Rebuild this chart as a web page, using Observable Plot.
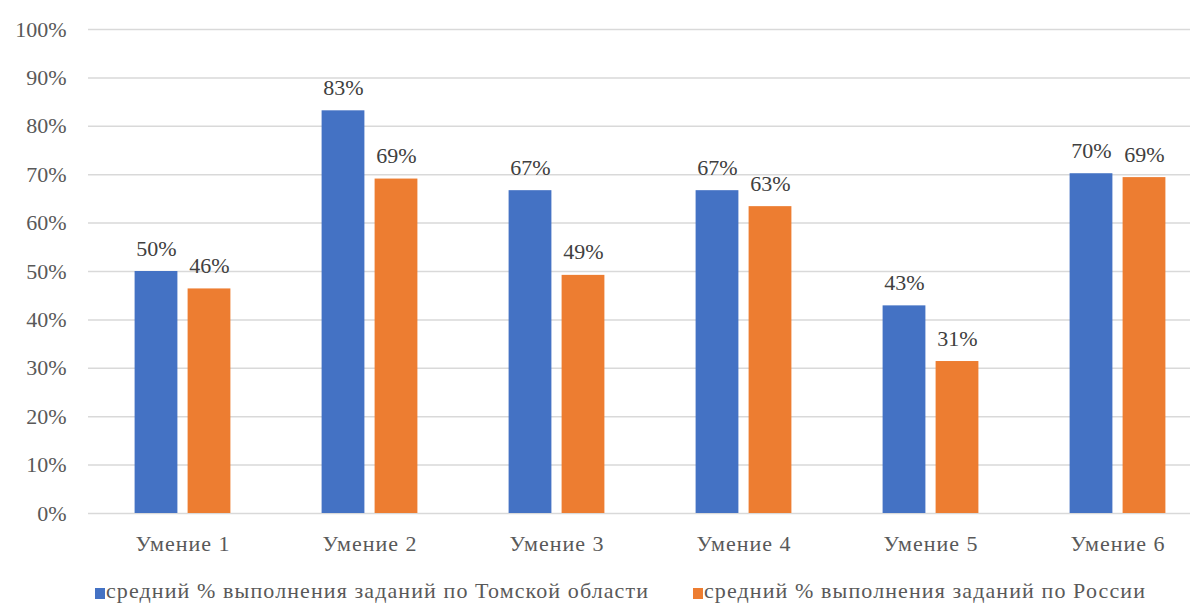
<!DOCTYPE html>
<html>
<head>
<meta charset="utf-8">
<script src="https://cdn.jsdelivr.net/npm/d3@7"></script>
<script src="https://cdn.jsdelivr.net/npm/@observablehq/plot@0.6"></script>
<style>
  html, body { margin: 0; padding: 0; background: #ffffff; }
  #wrap { position: relative; width: 1198px; height: 606px; overflow: hidden; }
  #legend { position: absolute; left: 0; top: 578px; width: 1198px; height: 28px;
    font-family: "Liberation Serif", "DejaVu Serif", serif; font-size: 22px; color: #595959; letter-spacing: 1.1px; }
  .item { position: absolute; top: 0; white-space: nowrap; line-height: 26px; }
  .sw { display: inline-block; width: 10px; height: 11px; margin-right: 1px; vertical-align: -1px; }
  svg text { font-family: "Liberation Serif", "DejaVu Serif", serif; }
  svg g[aria-label="x-axis tick label"] text { letter-spacing: 1px; }
</style>
</head>
<body>
<div id="wrap">
  <div id="chart"></div>
  <div id="legend"></div>
</div>
<script>
const categories = ["Умение 1", "Умение 2", "Умение 3", "Умение 4", "Умение 5", "Умение 6"];
const seriesNames = ["средний % выполнения заданий по Томской области", "средний % выполнения заданий по России"];
const tomsk = [50.0, 83.2, 66.7, 66.7, 42.9, 70.2];
const russia = [46.4, 69.1, 49.2, 63.4, 31.4, 69.4];
const yTicks = [0, 10, 20, 30, 40, 50, 60, 70, 80, 90, 100];
const colors = ["#4472C4", "#ED7D31"];

const tomskData = categories.map((c, i) => ({cat: c, v: tomsk[i]}));
const russiaData = categories.map((c, i) => ({cat: c, v: russia[i]}));
const fmt = d => Math.round(d.v) + "%";
const serif = "Liberation Serif, DejaVu Serif, serif";

const chart = Plot.plot({
  width: 1198,
  height: 566,
  marginLeft: 88,
  marginRight: 8,
  marginTop: 29,
  marginBottom: 53,
  style: {fontFamily: serif, fontSize: "22px", color: "#595959", background: "#ffffff"},
  x: {domain: categories, range: [88, 1211], padding: 0, label: null},
  y: {domain: [0, 100], range: [513, 29], label: null},
  marks: [
    Plot.gridY(yTicks, {stroke: "#d9d9d9", strokeOpacity: 1, strokeWidth: 1.5}),
    Plot.barY(tomskData, {x: "cat", y: "v", fill: colors[0], insetLeft: 45.6, insetRight: 98.6}),
    Plot.barY(russiaData, {x: "cat", y: "v", fill: colors[1], insetLeft: 98.6, insetRight: 45.6}),
    Plot.text(tomskData, {x: "cat", y: "v", text: fmt, dx: -26.5, dy: -16, lineAnchor: "bottom", fill: "#404040", fontSize: 22, fontFamily: serif}),
    Plot.text(russiaData, {x: "cat", y: "v", text: fmt, dx: 26.5, dy: -16, lineAnchor: "bottom", fill: "#404040", fontSize: 22, fontFamily: serif}),
    Plot.axisX({tickSize: 0, tickPadding: 22, fontSize: 22, fill: "#595959", fontFamily: serif}),
    Plot.axisY({ticks: yTicks, tickFormat: d => d + "%", tickSize: 0, tickPadding: 22, fontSize: 22, fill: "#595959", fontFamily: serif})
  ]
});
document.getElementById("chart").appendChild(chart);

const legend = document.getElementById("legend");
const lefts = [95, 693];
seriesNames.forEach((name, i) => {
  const item = document.createElement("div");
  item.className = "item";
  item.style.left = lefts[i] + "px";
  const sw = document.createElement("span");
  sw.className = "sw";
  sw.style.background = colors[i];
  item.appendChild(sw);
  item.appendChild(document.createTextNode(name));
  legend.appendChild(item);
});
</script>
</body>
</html>
